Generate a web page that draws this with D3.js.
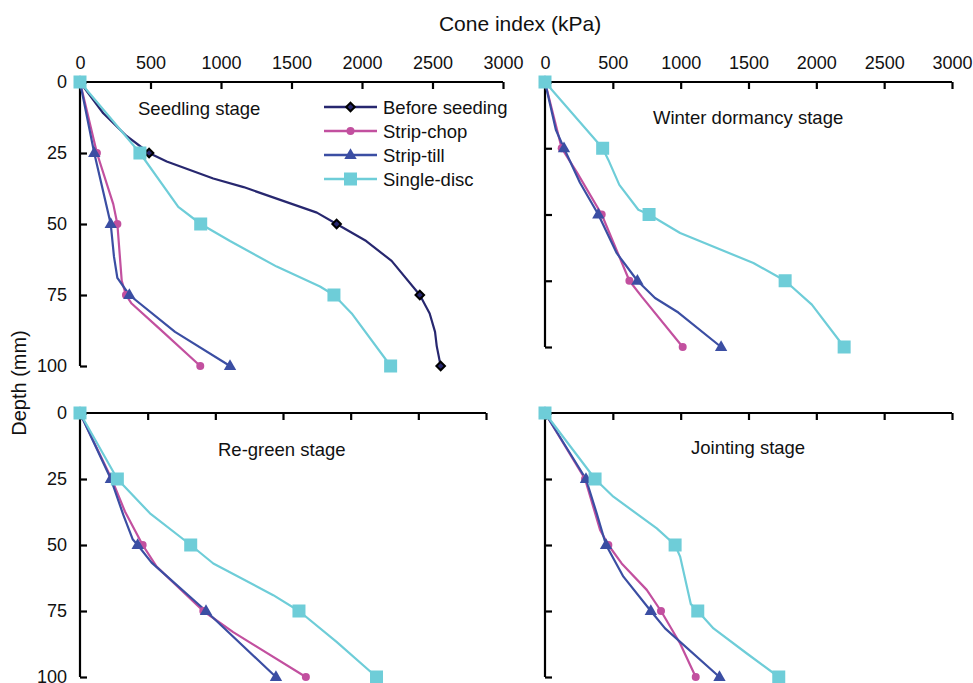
<!DOCTYPE html>
<html><head><meta charset="utf-8">
<script src="https://cdn.jsdelivr.net/npm/d3@7"></script>
<style>
html,body{margin:0;padding:0;background:#fff;}
svg text{font-family:"Liberation Sans",Arial,Helvetica,sans-serif;fill:#111;}
</style></head>
<body><svg id="chart" width="973" height="683"></svg>
<script>
// ---------- DATA ----------
const seriesNames = ["Before seeding","Strip-chop","Strip-till","Single-disc"];
const stageNames = ["Seedling stage","Winter dormancy stage","Re-green stage","Jointing stage"];
const xTicks = [0,500,1000,1500,2000,2500,3000];
const yTicks = [0,25,50,75,100];
const markerDepths = [0,25,50,75,100];

// Seedling stage
const seedBeforeDepth = [0,11,19,25,28,34,37,46,50,56,63,75,81.5,88,93,100];
const seedBeforeValue = [0,165,330,490,615,945,1160,1680,1820,2030,2210,2410,2480,2518,2530,2558];
const seedChopDepth = [0,25,43,50,70,75,78,87,100];
const seedChopValue = [0,120,236,265,296,326,366,567,853];
const seedTillDepth = [0,25,50,61.5,69,75,88,100];
const seedTillValue = [0,101,218,241,265,350,674,1064];
const seedDiscDepth = [0,25,44,50,56,65,72,75,81.5,100];
const seedDiscValue = [0,425,697,856,1064,1395,1702,1801,1927,2203];

// Winter dormancy stage
const winterChopDepth = [0,25,34,50,75,81,100];
const winterChopValue = [0,123,234,418,622,713,1015];
const winterTillDepth = [0,18,25,38,50,64.6,75,81.5,87,100];
const winterTillValue = [0,80,140,258,393,529,681,811,983,1298];
const winterDiscDepth = [0,25,29.4,38.8,48.2,50,57,68.3,75,84,100];
const winterDiscValue = [0,425,467,548,688,767,996,1536,1770,1967,2205];

// Re-green stage
const regreenChopDepth = [0,25,37.3,50,58.2,75,83,100];
const regreenChopValue = [0,234,332,463,566,911,1132,1669];
const regreenTillDepth = [0,25,38.6,47.8,50,56.7,75,100];
const regreenTillValue = [0,228,320,389,426,529,931,1448];
const regreenDiscDepth = [0,25,38,50,57,69,75,86.7,100];
const regreenDiscValue = [0,276,517,818,985,1428,1618,1896,2191];

// Jointing stage
const jointChopDepth = [0,25,44.3,50,57,67,75,87.3,100];
const jointChopValue = [0,295,406,467,565,750,855,996,1111];
const jointTillDepth = [0,25,38,50,62,75,81.6,100];
const jointTillValue = [0,302,381,450,578,780,885,1286];
const jointDiscDepth = [0,25,31.7,43.7,50,54.4,72.4,75,81.6,91.1,100];
const jointDiscValue = [0,369,504,824,959,996,1075,1126,1242,1488,1723];

// ---------- STYLE / LAYOUT ----------
const colors = {"Before seeding":"#27276f","Strip-chop":"#c2509f","Strip-till":"#3b4ea3","Single-disc":"#6ecdd8"};
const zip = (d,v) => d.map((dd,i)=>({depth:dd,value:v[i]}));

const panels = [
  {name:stageNames[0], x:[80,503], y:[82,366], xLabels:true, yLabels:true, label:{x:138,y:115,anchor:"start"},
   series:[["Before seeding",zip(seedBeforeDepth,seedBeforeValue)],["Strip-chop",zip(seedChopDepth,seedChopValue)],
           ["Strip-till",zip(seedTillDepth,seedTillValue)],["Single-disc",zip(seedDiscDepth,seedDiscValue)]]},
  {name:stageNames[1], x:[545,952], y:[82,347], xLabels:true, yLabels:false, label:{x:653,y:124,anchor:"start"},
   series:[["Strip-chop",zip(winterChopDepth,winterChopValue)],["Strip-till",zip(winterTillDepth,winterTillValue)],
           ["Single-disc",zip(winterDiscDepth,winterDiscValue)]]},
  {name:stageNames[2], x:[80,486], y:[413,677], xLabels:false, yLabels:true, label:{x:218,y:456,anchor:"start"},
   series:[["Strip-chop",zip(regreenChopDepth,regreenChopValue)],["Strip-till",zip(regreenTillDepth,regreenTillValue)],
           ["Single-disc",zip(regreenDiscDepth,regreenDiscValue)]]},
  {name:stageNames[3], x:[545,952], y:[413,677], xLabels:false, yLabels:false, label:{x:691,y:454,anchor:"start"},
   series:[["Strip-chop",zip(jointChopDepth,jointChopValue)],["Strip-till",zip(jointTillDepth,jointTillValue)],
           ["Single-disc",zip(jointDiscDepth,jointDiscValue)]]}
];

const svg = d3.select("#chart");

function drawMarker(g, name, cx, cy){
  const c = colors[name];
  if(name==="Before seeding"){
    const r = 4.3;
    g.append("path").attr("d",`M${cx},${cy-r}L${cx+r},${cy}L${cx},${cy+r}L${cx-r},${cy}Z`)
      .attr("fill",c).attr("stroke","#000").attr("stroke-width",2);
  } else if(name==="Strip-chop"){
    g.append("circle").attr("cx",cx).attr("cy",cy).attr("r",4).attr("fill",c);
  } else if(name==="Strip-till"){
    g.append("path").attr("d",d3.symbol(d3.symbolTriangle, 66)())
      .attr("transform",`translate(${cx},${cy+0.5})`).attr("fill",c);
  } else {
    g.append("rect").attr("x",cx-6.5).attr("y",cy-6.5).attr("width",13).attr("height",13).attr("fill",c);
  }
}

panels.forEach(p=>{
  const x = d3.scaleLinear().domain([0,3000]).range(p.x);
  const y = d3.scaleLinear().domain([0,100]).range(p.y);
  const g = svg.append("g");

  const xa = d3.axisTop(x).tickValues(xTicks).tickSize(-7).tickPadding(13)
    .tickFormat(p.xLabels ? d3.format("d") : "");
  const gx = g.append("g").attr("transform",`translate(0,${p.y[0]})`).call(xa);
  gx.select(".domain").attr("stroke","#000").attr("stroke-width",2.2).attr("d",`M${p.x[0]},0H${p.x[1]}`);
  gx.selectAll(".tick line").attr("stroke","#000").attr("stroke-width",2.2);
  gx.selectAll(".tick text").attr("font-size",18).attr("fill","#111");

  const ya = d3.axisLeft(y).tickValues(yTicks).tickSize(-7).tickPadding(13)
    .tickFormat(p.yLabels ? d3.format("d") : "");
  const gy = g.append("g").attr("transform",`translate(${p.x[0]},0)`).call(ya);
  gy.select(".domain").attr("stroke","#000").attr("stroke-width",2.2).attr("d",`M0,${p.y[0]}V${p.y[1]}`);
  gy.selectAll(".tick line").attr("stroke","#000").attr("stroke-width",2.2);
  gy.selectAll(".tick text").attr("font-size",18).attr("fill","#111");

  g.append("text").attr("x",p.label.x).attr("y",p.label.y).attr("text-anchor",p.label.anchor)
    .attr("font-size",18.5).text(p.name);

  const line = d3.line().x(d=>x(d.value)).y(d=>y(d.depth));
  p.series.forEach(([name,data])=>{
    g.append("path").datum(data).attr("d",line).attr("fill","none")
      .attr("stroke",colors[name]).attr("stroke-width",2.2).attr("stroke-linejoin","round");
  });
  p.series.forEach(([name,data])=>{
    data.filter(d=>markerDepths.includes(d.depth)).forEach(d=>drawMarker(g,name,x(d.value),y(d.depth)));
  });
});

// Legend
const leg = svg.append("g");
const legY = d3.scalePoint().domain(seriesNames).range([107,179]);
seriesNames.forEach(n=>{
  const yy = legY(n);
  leg.append("line").attr("x1",324).attr("x2",377).attr("y1",yy).attr("y2",yy)
    .attr("stroke",colors[n]).attr("stroke-width",2.5);
  drawMarker(leg,n,350.5,yy);
  leg.append("text").attr("x",383).attr("y",yy+6.5).attr("font-size",18.5).text(n);
});

// Axis titles
svg.append("text").attr("x",520).attr("y",31).attr("text-anchor","middle").attr("font-size",21).text("Cone index (kPa)");
svg.append("text").attr("transform","translate(26,383) rotate(-90)").attr("text-anchor","middle")
  .attr("font-size",20).text("Depth (mm)");
</script></body></html>
